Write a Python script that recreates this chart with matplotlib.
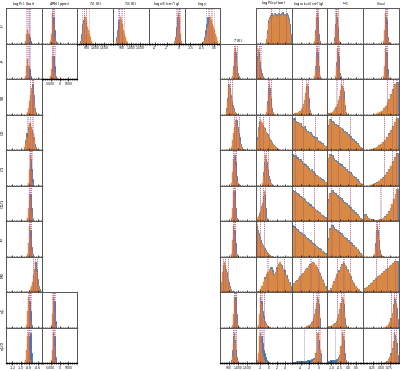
import numpy as np
import matplotlib
matplotlib.use("Agg")
import matplotlib.pyplot as plt
from matplotlib.ticker import FixedLocator, AutoMinorLocator, NullLocator

# ---------------- data ----------------
ROWS = ["J0", "J1", "S0", "C0", "C1", "C0/1", "f0", "M0", "q1", "q1/0"]
COL_LABELS = [r"log $P_{\rm c1}$ (bar)", r"$\Delta$RN (ppm)", r"$T_{\rm c1}$ (K)",
              r"$T_{\rm c0}$ (K)", r"log $\kappa_{\rm IR}$ (cm²/g)", r"log $\gamma$",
              r"$T$ (K)", r"log $P_{\rm dep}$ (bar)", r"log $\kappa_{\rm cloud}$ (cm²/g)",
              r"$\omega_0$", r"$f_{\rm cloud}$"]
XLIM = [(-1.35, -0.5), (-10000, 10000), (0, 2000), (0, 2000), (-5, 1), (-2, 1),
        (0, 2000), (-3, 5.6), (-6, 2), (-1.25, 0.9), (-0.03, 1.02)]
TICKS = [[-1.2, -1.0, -0.8, -0.6], [-5000, 0, 5000], [500, 1000, 1500], [500, 1000, 1500],
         [-4, -2, 0], [-1.5, -0.5, 0.5], [500, 1000, 1500], [-2, 0, 2, 4], [-4, -2, 0],
         [-1.0, -0.5, 0.0, 0.5], [0.25, 0.5, 0.75]]
TICKLABELS = [["-1.2", "-1.0", "-0.8", "-0.6"], ["-5000", "0", "5000"], ["500", "1,000", "1,500"],
              ["500", "1,000", "1,500"], ["-4", "-2", "0"], ["-1.5", "-0.5", "0.5"],
              ["500", "1,000", "1,500"], ["-2", "0", "2", "4"], ["-4", "-2", "0"],
              ["-1.0", "-0.5", "0.0", "0.5"], ["0.25", "0.50", "0.75"]]

# each entry: row -> (lo, hi, orange heights, blue heights)
logPc1 = {
    0: (-0.90, -0.75, [1, 3, 4, 3, 1, 0.3], [0, 1, 2, 3, 2, 1]),
    1: (-0.90, -0.75, [1, 4, 6, 4, 1, 0.3], [0, 1, 3, 4, 3, 1]),
    2: (-0.85, -0.64, [1, 2, 4, 6, 8, 8, 6, 3, 1], [1, 2, 3, 5, 7, 9, 6, 2, 1]),
    3: (-0.92, -0.61, [1, 2, 4, 6, 8, 8, 7, 5, 3, 1, 0.5], [1, 3, 5, 7, 8, 7, 6, 4, 2, 1, 0.5]),
    4: (-0.83, -0.71, [1, 5, 9, 4, 1], [1, 3, 8, 5, 2]),
    5: (-0.85, -0.71, [1, 4, 8, 7, 3, 1], [1, 3, 7, 8, 4, 1]),
    6: (-0.85, -0.71, [1, 4, 9, 6, 2, 1], [1, 3, 7, 8, 3, 1]),
    7: (-0.80, -0.54, [0.5, 1, 2, 3, 5, 7, 9, 8, 6, 4, 2, 1], [0.5, 1, 2, 3, 4, 6, 8, 9, 7, 4, 2, 1]),
    8: (-0.87, -0.73, [1, 5, 9, 7, 2, 0.5], [0, 1, 4, 8, 5, 1]),
    9: (-0.90, -0.73, [1, 4, 8, 9, 4, 1, 0], [0, 0, 1, 3, 8, 9, 3]),
}
dRN = {
    0: (-5350, -1430, [1, 3, 9, 6, 2, 1, 0.5], [0.5, 2, 6, 8, 4, 1, 0.5]),
    1: (-5350, -1430, [1, 3, 7, 5, 2, 1, 0.5], [0.5, 2, 5, 7, 4, 1, 0.5]),
    8: (-5000, -2200, [1, 4, 9, 5, 1], [0, 2, 6, 8, 2]),
    9: (-5000, -2200, [1, 4, 9, 5, 1], [0, 2, 6, 8, 2]),
}
Tc1 = {0: (146, 818, [0, 1, 3, 6, 8, 8, 7, 5, 4, 3, 2, 1], [1, 3, 6, 7, 6, 5, 3, 2, 1, 0.5, 0.3, 0])}
Tc0 = {0: (162, 834, [0.5, 2, 4, 7, 8, 7, 6, 4, 3, 2, 1, 0.5], [2, 4, 7, 7, 5, 4, 2, 1, 0.5, 0.3, 0, 0])}
logkIR = {0: (-0.77, 0.58, [0.5, 1, 2, 5, 9, 8, 3, 1], [1, 2, 5, 8, 6, 3, 1, 0])}
loggamma = {0: (-0.53, 0.81, [0.3, 0.5, 1, 2, 3, 5, 6, 8, 8, 7, 6, 5, 4, 3, 2, 1],
                [0.5, 1, 2, 4, 6, 8, 8, 7, 5, 4, 3, 2, 1, 0.5, 0.3, 0])}
T = {
    1: (661, 1165, [1, 3, 8, 9, 5, 2, 1, 0.5, 0.2], [1, 4, 7, 8, 4, 2, 1, 0.5, 0.2]),
    2: (325, 997, [1, 4, 8, 9, 7, 5, 3, 2, 1, 0.5, 0.3, 0.1], [2, 5, 9, 8, 6, 4, 3, 2, 1, 0.5, 0.3, 0.1]),
    3: (549, 1445, [0.5, 1, 3, 5, 7, 9, 8, 7, 5, 3, 2, 1, 0.5, 0.3, 0.2, 0.1],
        [0.5, 1, 2, 4, 7, 8, 9, 7, 5, 4, 2, 1, 0.5, 0.3, 0.2, 0.1]),
    4: (605, 1109, [1, 4, 8, 9, 6, 3, 1, 0.5, 0.2], [1, 3, 7, 9, 7, 3, 1, 0.5, 0.2]),
    5: (605, 997, [1, 4, 9, 8, 4, 1, 0.5], [1, 3, 8, 9, 4, 1, 0.5]),
    6: (605, 997, [1, 5, 9, 7, 3, 1, 0.3], [1, 4, 8, 8, 4, 1, 0.3]),
    7: (45, 717, [3, 6, 8, 9, 8, 6, 4, 3, 2, 1, 0.5, 0.3], [3, 5, 8, 8, 7, 6, 4, 3, 2, 1, 0.5, 0.3]),
    8: (661, 1053, [1, 4, 9, 8, 4, 1, 0.3], [1, 3, 8, 9, 4, 1, 0.3]),
    9: (605, 1053, [0.5, 2, 6, 9, 6, 2, 1, 0.3], [1, 4, 8, 7, 4, 2, 0.5, 0.2]),
}
logPdep = {
    0: (-0.57, 5.46, [1, 3, 6, 7.5, 8, 8.5, 8, 8.2, 8.8, 8.5, 8, 8.3, 8.8, 8.5, 8.2, 8.6, 8.8, 8.4, 8, 8.5, 8.7, 8.3, 7.5, 6, 3],
        [1.5, 4, 7, 8, 8.5, 9, 8.5, 8.5, 9.2, 8.8, 8.5, 8.8, 9, 8.8, 8.5, 9, 9.3, 8.8, 8.3, 8.8, 9, 8.5, 7.8, 6, 3]),
    1: (-2.98, -1.05, [2, 6, 9, 6, 3, 1.5, 1, 0.5], [3, 7, 8, 5, 3, 2, 1, 0.5]),
    2: (-0.57, 1.36, [1, 3, 7, 9, 6, 3, 1, 0.5], [1, 4, 8, 8, 5, 2, 1, 0.3]),
    3: (-2.98, 2.8, [1, 3, 6, 8, 9, 8.5, 8, 7, 6.5, 6, 5, 4.5, 4, 3.5, 3, 2.5, 2, 1.5, 1.2, 1, 0.7, 0.5, 0.3, 0.2],
        [1.5, 4, 7, 8.5, 8.5, 8, 7.5, 7, 6.5, 5.5, 5, 4.8, 4, 3.5, 3.2, 2.5, 2, 1.6, 1.2, 1, 0.7, 0.5, 0.3, 0.2]),
    4: (-1.53, 1.36, [1, 3, 6, 9, 8, 5, 3, 2, 1, 0.5, 0.3, 0.1], [1, 4, 7, 8, 7, 5, 3, 2, 1, 0.5, 0.3, 0.1]),
    5: (-2.98, -0.33, [0.5, 1, 1.5, 2, 3, 4, 5, 7, 9, 4, 1], [0.5, 1, 1.5, 2.5, 3, 4.5, 5.5, 7.5, 8, 4, 1]),
    6: (-2.98, 0.88, [8, 9, 7, 6, 5, 4, 3.5, 3, 2.5, 2, 1.5, 1, 0.8, 0.5, 0.3, 0.2],
        [9, 8, 7, 6, 5, 4.2, 3.5, 3, 2.5, 2, 1.5, 1.1, 0.8, 0.5, 0.3, 0.2]),
    7: (-2.49, 5.46, [0.5, 1, 2, 3, 4, 5, 6, 6.5, 7, 6, 5, 5.5, 7, 8, 9, 8, 7, 6, 5, 4, 3, 2],
        [0.5, 1, 2, 3, 4.5, 5.5, 6, 7, 7.5, 6.5, 5.5, 6, 7.5, 8.5, 8.5, 8, 7, 6.5, 5, 4, 3, 2]),
    8: (-2.49, 0.4, [1, 4, 9, 7, 5, 3, 2, 1.5, 1, 0.5, 0.3, 0.2], [1, 3, 8, 8, 5, 3.5, 2, 1.5, 1, 0.5, 0.3, 0.2]),
    9: (-2.73, 0.4, [1, 3, 8, 9, 6, 3, 2, 1, 0.5, 0.3, 0.2, 0.1, 0.1], [1, 2, 5, 7, 8, 6, 4, 3, 2, 1, 0.5, 0.3, 0.1]),
}
logkcloud = {
    0: (-0.98, 0.36, [1, 3, 8, 9, 4, 1], [1, 4, 8, 8, 3, 1]),
    1: (-0.98, 0.59, [1, 3, 7, 9, 5, 2, 0.5], [1, 4, 8, 8, 4, 1, 0.5]),
    2: (-5.91, -1.43, [0.3, 0.3, 0.4, 0.5, 0.5, 0.6, 0.8, 1, 1.2, 1.5, 2, 3, 4, 6, 8, 9, 6, 2, 0.5, 0],
        [0.4, 0.4, 0.5, 0.6, 0.6, 0.7, 0.9, 1.1, 1.3, 1.7, 2.2, 3.2, 4.5, 6.5, 8.5, 8.5, 5, 1.5, 0.5, 0]),
    3: (-6, 2, [8, 9, 8.5, 8, 7.5, 8, 7, 6.5, 7, 6, 5.5, 5, 5.2, 4.5, 4, 3.5, 3.8, 3, 2.5, 2.2, 2, 1.6, 1.2, 1],
        [8.5, 9.5, 8.8, 8.3, 8, 8.2, 7.3, 7, 7.2, 6.3, 5.8, 5.4, 5.4, 4.8, 4.2, 3.8, 4, 3.2, 2.7, 2.4, 2.1, 1.7, 1.3, 1.1]),
    4: (-6, 2, [9, 8.5, 9, 8, 7.5, 7.8, 7, 6.5, 6, 6.2, 5.5, 5, 4.5, 4.8, 4, 3.5, 3, 2.8, 2.5, 2, 1.8, 1.5, 1.2, 1],
        [9.3, 9, 9.2, 8.5, 7.8, 8, 7.4, 6.8, 6.4, 6.5, 5.8, 5.3, 4.8, 5, 4.3, 3.8, 3.3, 3, 2.7, 2.2, 2, 1.6, 1.3, 1.1]),
    5: (-6, 2, [9, 8.8, 8.4, 8, 7.7, 7.3, 7, 6.6, 6.2, 5.9, 5.5, 5.1, 4.7, 4.4, 4, 3.6, 3.3, 2.9, 2.5, 2.2, 1.8, 1.4, 1.1, 0.8],
        [9.3, 9, 8.8, 8.3, 8, 7.6, 7.3, 6.9, 6.5, 6.1, 5.8, 5.3, 5, 4.6, 4.2, 3.8, 3.5, 3.1, 2.7, 2.3, 1.9, 1.5, 1.2, 0.9]),
    6: (-6, 2, [9, 8.6, 8.3, 7.9, 7.5, 7.2, 6.8, 6.5, 6.1, 5.7, 5.3, 5, 4.6, 4.2, 3.9, 3.5, 3.1, 2.8, 2.4, 2, 1.7, 1.3, 1, 0.7],
        [9.3, 9, 8.6, 8.2, 7.8, 7.5, 7.1, 6.8, 6.4, 6, 5.6, 5.2, 4.9, 4.5, 4.1, 3.7, 3.3, 3, 2.6, 2.2, 1.8, 1.4, 1.1, 0.8]),
    7: (-6, 2, [2, 2.5, 3, 3.5, 4, 4.5, 5, 5.5, 6, 6.5, 7, 7.5, 8, 8.5, 9, 8.5, 8, 7, 6, 5, 4, 3, 2, 1],
        [2.3, 2.8, 3.3, 3.7, 4.3, 4.8, 5.3, 5.8, 6.3, 6.8, 7.3, 7.8, 8.3, 8.8, 8.8, 8.2, 7.6, 6.8, 5.8, 4.8, 3.8, 2.8, 1.8, 0.9]),
    8: (-3.0, 0.36, [0.3, 0.4, 0.5, 0.6, 0.8, 1, 1.3, 1.8, 2.5, 3.5, 5, 7, 9, 8, 4],
        [0.4, 0.5, 0.6, 0.8, 1, 1.2, 1.6, 2.1, 3, 4, 5.5, 7.5, 8.5, 7, 3]),
    9: (-6, 0.6, [0, 0, 0, 0, 0, 0, 0, 0, 0, 0, 0.3, 1, 3, 9, 4],
        [0.5, 0.5, 0.6, 0.6, 0.6, 0.7, 0.7, 0.8, 0.9, 1, 1.2, 1.5, 3, 7, 3]),
}
omega0 = {
    0: (-0.85, -0.49, [1, 5, 9, 6, 2, 1], [2, 6, 8, 5, 1, 0.5]),
    1: (-0.79, -0.43, [1, 4, 9, 7, 3, 1], [1, 5, 8, 7, 2, 1]),
    2: (-1.25, -0.06, [0.3, 0.4, 0.5, 0.6, 0.8, 1, 1.5, 2, 3, 4, 5, 7, 9, 8, 4, 1.5, 0.5],
        [0.4, 0.5, 0.6, 0.7, 0.9, 1.2, 1.7, 2.3, 3.3, 4.4, 5.5, 7.5, 8.5, 7, 3, 1, 0.3]),
    3: (-1.25, 0.9, [7, 9, 8.5, 8, 7.5, 7.2, 6.8, 6.5, 6, 5.5, 5, 4.5, 4, 3.5, 3, 2.5, 2, 1.5, 1, 0.5],
        [7.5, 9.3, 8.8, 8.3, 7.8, 7.5, 7, 6.7, 6.2, 5.8, 5.3, 4.8, 4.3, 3.8, 3.3, 2.8, 2.2, 1.7, 1.1, 0.6]),
    4: (-1.25, 0.9, [8, 9, 8.8, 8, 7.5, 7, 6.5, 6, 5.8, 5.2, 4.8, 4.2, 3.8, 3.2, 2.8, 2.2, 1.8, 1.2, 0.8, 0.4],
        [8.3, 9.3, 9, 8.4, 7.8, 7.3, 6.8, 6.4, 6, 5.5, 5, 4.5, 4, 3.5, 3, 2.5, 2, 1.4, 0.9, 0.5]),
    5: (-1.25, 0.9, [6, 8, 9, 8.5, 8, 7.5, 7, 6.5, 6, 5.5, 5, 4.5, 4, 3.5, 3, 2.5, 2, 1.5, 1, 0.5],
        [6.5, 8.5, 9.2, 8.8, 8.3, 7.8, 7.3, 6.8, 6.3, 5.8, 5.3, 4.8, 4.3, 3.8, 3.3, 2.8, 2.2, 1.7, 1.1, 0.6]),
    6: (-1.25, 0.9, [5, 8, 9, 8.5, 8, 7.8, 7.2, 6.8, 6.2, 5.8, 5.2, 4.8, 4.2, 3.8, 3.2, 2.8, 2.2, 1.6, 1, 0.5],
        [5.5, 8.5, 9.3, 8.8, 8.3, 8, 7.5, 7, 6.5, 6, 5.5, 5, 4.5, 4, 3.5, 3, 2.4, 1.8, 1.1, 0.6]),
    7: (-1.19, 0.74, [0.5, 1, 2, 3, 4, 5, 6, 7, 8, 9, 8, 7, 6, 5, 4, 3, 2, 1.5, 1, 0.5],
        [0.6, 1.2, 2.3, 3.3, 4.3, 5.5, 6.5, 7.5, 8.5, 8.8, 7.8, 6.8, 5.8, 4.8, 3.8, 2.8, 1.8, 1.3, 0.9, 0.4]),
    8: (-1.25, -0.03, [0.3, 0.4, 0.5, 0.6, 0.8, 1, 1.3, 1.8, 2.5, 3.5, 5, 7, 9, 8, 4, 1, 0.3],
        [0.4, 0.5, 0.6, 0.7, 0.9, 1.2, 1.5, 2, 3, 4, 5.5, 7.5, 8.5, 7, 3, 0.8, 0.2]),
    9: (-1.25, -0.03, [0, 0, 0, 0, 0, 0, 0, 0.2, 0.4, 1, 2, 5, 9, 8, 4, 1, 0.3],
        [0.8, 0.8, 0.9, 0.9, 1, 1, 1.1, 1.2, 1.4, 1.8, 2.5, 5, 8, 7, 3, 1, 0.2]),
}
fcloud = {
    0: (0.558, 0.734, [1, 4, 9, 6, 2, 1], [1, 3, 8, 7, 2, 0.5]),
    1: (0.558, 0.734, [1, 4, 9, 7, 2, 1], [1, 3, 8, 8, 3, 0.5]),
    2: (0.323, 1.0, [0.3, 0.5, 0.8, 1.2, 1.8, 2.5, 3.5, 4.5, 6, 7.5, 8.8, 9.5],
        [0.3, 0.6, 0.9, 1.3, 2, 2.7, 3.7, 4.8, 6.2, 7.7, 9, 9.6]),
    3: (0.176, 1.0, [0.3, 0.5, 0.7, 1, 1.4, 1.8, 2.3, 3, 3.8, 4.7, 5.8, 7, 8.3, 9.5],
        [0.3, 0.5, 0.8, 1.1, 1.5, 2, 2.5, 3.2, 4, 5, 6, 7.3, 8.5, 9.6]),
    4: (0.176, 1.0, [0.3, 0.5, 0.7, 1, 1.4, 1.8, 2.3, 3, 3.8, 4.7, 5.8, 7, 8.3, 9.5],
        [0.3, 0.5, 0.8, 1.1, 1.5, 2, 2.5, 3.2, 4, 5, 6, 7.3, 8.5, 9.6]),
    5: (0.0, 1.0, [2, 1.5, 1, 0.7, 0.5, 0.4, 0.3, 0.3, 0.4, 0.5, 0.7, 1, 1.4, 2, 2.8, 3.8, 5, 6.5, 8, 9.5],
        [2.2, 1.6, 1.1, 0.8, 0.6, 0.4, 0.3, 0.3, 0.4, 0.6, 0.8, 1.1, 1.5, 2.1, 3, 4, 5.2, 6.7, 8.2, 9.6]),
    6: (0.293, 0.558, [1, 3, 7, 9, 6, 3, 1, 0.5, 0.2], [1, 4, 8, 8, 5, 2, 1, 0.4, 0.2]),
    7: (0.0, 1.0, [1, 1.5, 2, 2.5, 3, 3.5, 4, 4.5, 5, 5.5, 6, 6.5, 7, 7.5, 8, 8.5, 9, 9],
        [1.2, 1.7, 2.2, 2.8, 3.2, 3.8, 4.2, 4.8, 5.2, 5.8, 6.2, 6.8, 7.2, 7.8, 8.2, 8.8, 9.2, 9.2]),
    8: (0.617, 1.0, [0.3, 0.5, 1, 1.5, 2.5, 4, 6, 9, 7, 3], [0.4, 0.6, 1.2, 1.8, 3, 4.5, 7, 8.5, 6, 2.5]),
    9: (0.617, 1.0, [0.3, 0.5, 1, 1.5, 2.5, 4, 6, 9, 7, 3], [0.5, 0.8, 1.3, 2, 3, 4.5, 6.5, 8.5, 6, 2.5]),
}
PANELS = [logPc1, dRN, Tc1, Tc0, logkIR, loggamma, T, logPdep, logkcloud, omega0, fcloud]

# ---------------- layout ----------------
W, H = 400, 371
X0, CW = 6.0, 35.7
Y0, RH = 8.4, 35.5
ORANGE = "#de8a3f"
BLUE = "#3b78b8"

fig = plt.figure(figsize=(W / 100, H / 100), dpi=100)
fig.patch.set_facecolor("white")


def quantiles(lo, hi, h, qs=(0.16, 0.5, 0.84)):
    h = np.asarray(h, float)
    edges = np.linspace(lo, hi, len(h) + 1)
    c = np.concatenate([[0], np.cumsum(h)]) / h.sum()
    return np.interp(qs, c, edges)


for c, panel in enumerate(PANELS):
    for r, (lo, hi, oh, bh) in panel.items():
        left = X0 + c * CW
        top = Y0 + r * RH
        ax = fig.add_axes([left / W, 1 - (top + RH) / H, CW / W, RH / H])
        edges = np.linspace(lo, hi, len(oh) + 1)
        centers = 0.5 * (edges[:-1] + edges[1:])
        ax.hist(centers, bins=edges, weights=bh, histtype="stepfilled",
                color=BLUE, edgecolor=BLUE, lw=0.6)
        ax.hist(centers, bins=edges, weights=oh, histtype="stepfilled",
                color=ORANGE, edgecolor=ORANGE, lw=0.3, alpha=0.97)
        for q in quantiles(lo, hi, bh):
            ax.axvline(q, color="#6a5acd", ls=":", lw=0.55)
        for q in quantiles(lo, hi, oh):
            ax.axvline(q, color="#d9534f", ls=":", lw=0.55)
        ax.set_xlim(*XLIM[c])
        ax.set_ylim(0, 10.5)
        ax.yaxis.set_major_locator(NullLocator())
        ax.xaxis.set_major_locator(FixedLocator(TICKS[c]))
        ax.xaxis.set_minor_locator(AutoMinorLocator(5))
        ax.tick_params(axis="x", which="major", direction="inout", length=2.5,
                       width=0.5, pad=0.6, labelsize=2.2, colors="black")
        ax.tick_params(axis="x", which="minor", direction="inout", length=1.6, width=0.4)
        for s in ("left", "right", "top"):
            ax.spines[s].set_color("#555555")
            ax.spines[s].set_linewidth(0.7)
        ax.spines["bottom"].set_color("black")
        ax.spines["bottom"].set_linewidth(0.9)
        has_below = (r + 1) in panel
        if has_below:
            ax.set_xticklabels([])
        else:
            ax.set_xticklabels(TICKLABELS[c])
        first = min(panel.keys())
        if r == first:
            ax.set_title(COL_LABELS[c], fontsize=2.6, pad=0.4)
        if c == 0:
            ax.set_ylabel(ROWS[r], fontsize=3.0, labelpad=1.2)

fig.savefig("out.png", dpi=100, facecolor="white")
